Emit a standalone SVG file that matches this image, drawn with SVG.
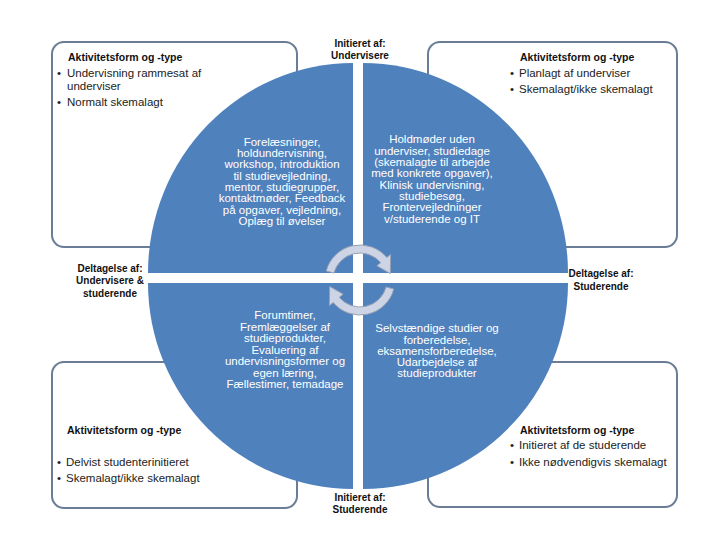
<svg xmlns="http://www.w3.org/2000/svg" width="720" height="540" viewBox="0 0 720 540">
<style>
.box{fill:#ffffff;stroke:#6a7d96;stroke-width:2}
.q{fill:#4f81bd}
.qt{font-family:"Liberation Sans",Arial,sans-serif;font-size:11.5px;fill:#ffffff;text-anchor:middle}
.bt{font-family:"Liberation Sans",Arial,sans-serif;font-size:11.5px;fill:#222222}
.bh{font-family:"Liberation Sans",Arial,sans-serif;font-size:10.5px;font-weight:bold;fill:#111111}
.lb{font-family:"Liberation Sans",Arial,sans-serif;font-size:10px;font-weight:bold;fill:#111111;text-anchor:middle}
.arr{fill:#cdd4e5;stroke:#98a1b3;stroke-width:1}
</style>
<rect width="720" height="540" fill="#ffffff"/>
<g id="box-tl">
<rect class="box" x="52" y="42" width="245" height="205" rx="12"/>
<text class="bh" x="68" y="61">Aktivitetsform og -type</text>
<text class="bt" x="57" y="77">•</text><text class="bt" x="67" y="77">Undervisning rammesat af</text>
<text class="bt" x="67" y="90">underviser</text>
<text class="bt" x="57" y="106">•</text><text class="bt" x="67" y="106">Normalt skemalagt</text>
</g>
<g id="box-tr">
<rect class="box" x="428" y="42" width="249" height="205" rx="12"/>
<text class="bh" x="520" y="61">Aktivitetsform og -type</text>
<text class="bt" x="510" y="77">•</text><text class="bt" x="519" y="77">Planlagt af underviser</text>
<text class="bt" x="510" y="93">•</text><text class="bt" x="519" y="93">Skemalagt/ikke skemalagt</text>
</g>
<g id="box-bl">
<rect class="box" x="52" y="362" width="245" height="146" rx="12"/>
<text class="bh" x="67" y="434">Aktivitetsform og -type</text>
<text class="bt" x="57" y="466">•</text><text class="bt" x="66" y="466">Delvist studenterinitieret</text>
<text class="bt" x="57" y="482">•</text><text class="bt" x="66" y="482">Skemalagt/ikke skemalagt</text>
</g>
<g id="box-br">
<rect class="box" x="428" y="362" width="249" height="145" rx="12"/>
<text class="bh" x="520" y="434">Aktivitetsform og -type</text>
<text class="bt" x="510" y="449">•</text><text class="bt" x="519" y="449">Initieret af de studerende</text>
<text class="bt" x="510" y="466">•</text><text class="bt" x="519" y="466">Ikke nødvendigvis skemalagt</text>
</g>
<g id="quadrant-tl">
<path class="q" d="M353,273 L148,273 A205,210 0 0 1 353,63 Z"/>
<text class="qt" x="282" y="145.7">Forelæsninger,</text>
<text class="qt" x="282" y="157">holdundervisning,</text>
<text class="qt" x="282" y="168.4">workshop, introduktion</text>
<text class="qt" x="282" y="179.7">til studievejledning,</text>
<text class="qt" x="282" y="191">mentor, studiegrupper,</text>
<text class="qt" x="282" y="202.4">kontaktmøder, Feedback</text>
<text class="qt" x="282" y="213.7">på opgaver, vejledning,</text>
<text class="qt" x="282" y="225">Oplæg til øvelser</text>
</g>
<g id="quadrant-tr">
<path class="q" d="M363,273 L363,63 A205,210 0 0 1 568,273 Z"/>
<text class="qt" x="432" y="143.3">Holdmøder uden</text>
<text class="qt" x="432" y="154.6">underviser, studiedage</text>
<text class="qt" x="432" y="166">(skemalagte til arbejde</text>
<text class="qt" x="432" y="177.3">med konkrete opgaver),</text>
<text class="qt" x="432" y="188.6">Klinisk undervisning,</text>
<text class="qt" x="432" y="200">studiebesøg,</text>
<text class="qt" x="432" y="211.3">Frontervejledninger</text>
<text class="qt" x="432" y="222.6">v/studerende og IT</text>
</g>
<g id="quadrant-bl">
<path class="q" d="M353,283 L353,489 A205,206 0 0 1 148,283 Z"/>
<text class="qt" x="285" y="319">Forumtimer,</text>
<text class="qt" x="285" y="330.5">Fremlæggelser af</text>
<text class="qt" x="285" y="342">studieprodukter,</text>
<text class="qt" x="285" y="353.6">Evaluering af</text>
<text class="qt" x="285" y="365.2">undervisningsformer og</text>
<text class="qt" x="285" y="376.8">egen læring,</text>
<text class="qt" x="285" y="388.3">Fællestimer,  temadage</text>
</g>
<g id="quadrant-br">
<path class="q" d="M363,283 L568,283 A205,206 0 0 1 363,489 Z"/>
<text class="qt" x="437" y="332.3">Selvstændige studier og</text>
<text class="qt" x="437" y="343.5">forberedelse,</text>
<text class="qt" x="437" y="354.8">eksamensforberedelse,</text>
<text class="qt" x="437" y="366">Udarbejdelse af</text>
<text class="qt" x="437" y="377.3">studieprodukter</text>
</g>
<g id="connectors">
<path class="arr" d="M326.19,270.94 A35,35 0 0 1 386.81,257.5 L390.64,254.29 L390.32,273.55 L376.85,265.86 L380.68,262.64 A27,27 0 0 0 333.92,273.01 Z"/>
<path class="arr" transform="rotate(180 360 280)" d="M326.19,270.94 A35,35 0 0 1 386.81,257.5 L390.64,254.29 L390.32,273.55 L376.85,265.86 L380.68,262.64 A27,27 0 0 0 333.92,273.01 Z"/>
</g>
<g id="label-top">
<text class="lb" x="360" y="47">Initieret af:</text>
<text class="lb" x="360" y="59">Undervisere</text>
</g>
<g id="label-bottom">
<text class="lb" x="360" y="500.5">Initieret af:</text>
<text class="lb" x="360" y="512.5">Studerende</text>
</g>
<g id="label-left">
<text class="lb" x="110" y="271.5">Deltagelse af:</text>
<text class="lb" x="110" y="284">Undervisere &amp;</text>
<text class="lb" x="110" y="296.5">studerende</text>
</g>
<g id="label-right">
<text class="lb" x="601" y="276.5">Deltagelse af:</text>
<text class="lb" x="601" y="290">Studerende</text>
</g>
</svg>
